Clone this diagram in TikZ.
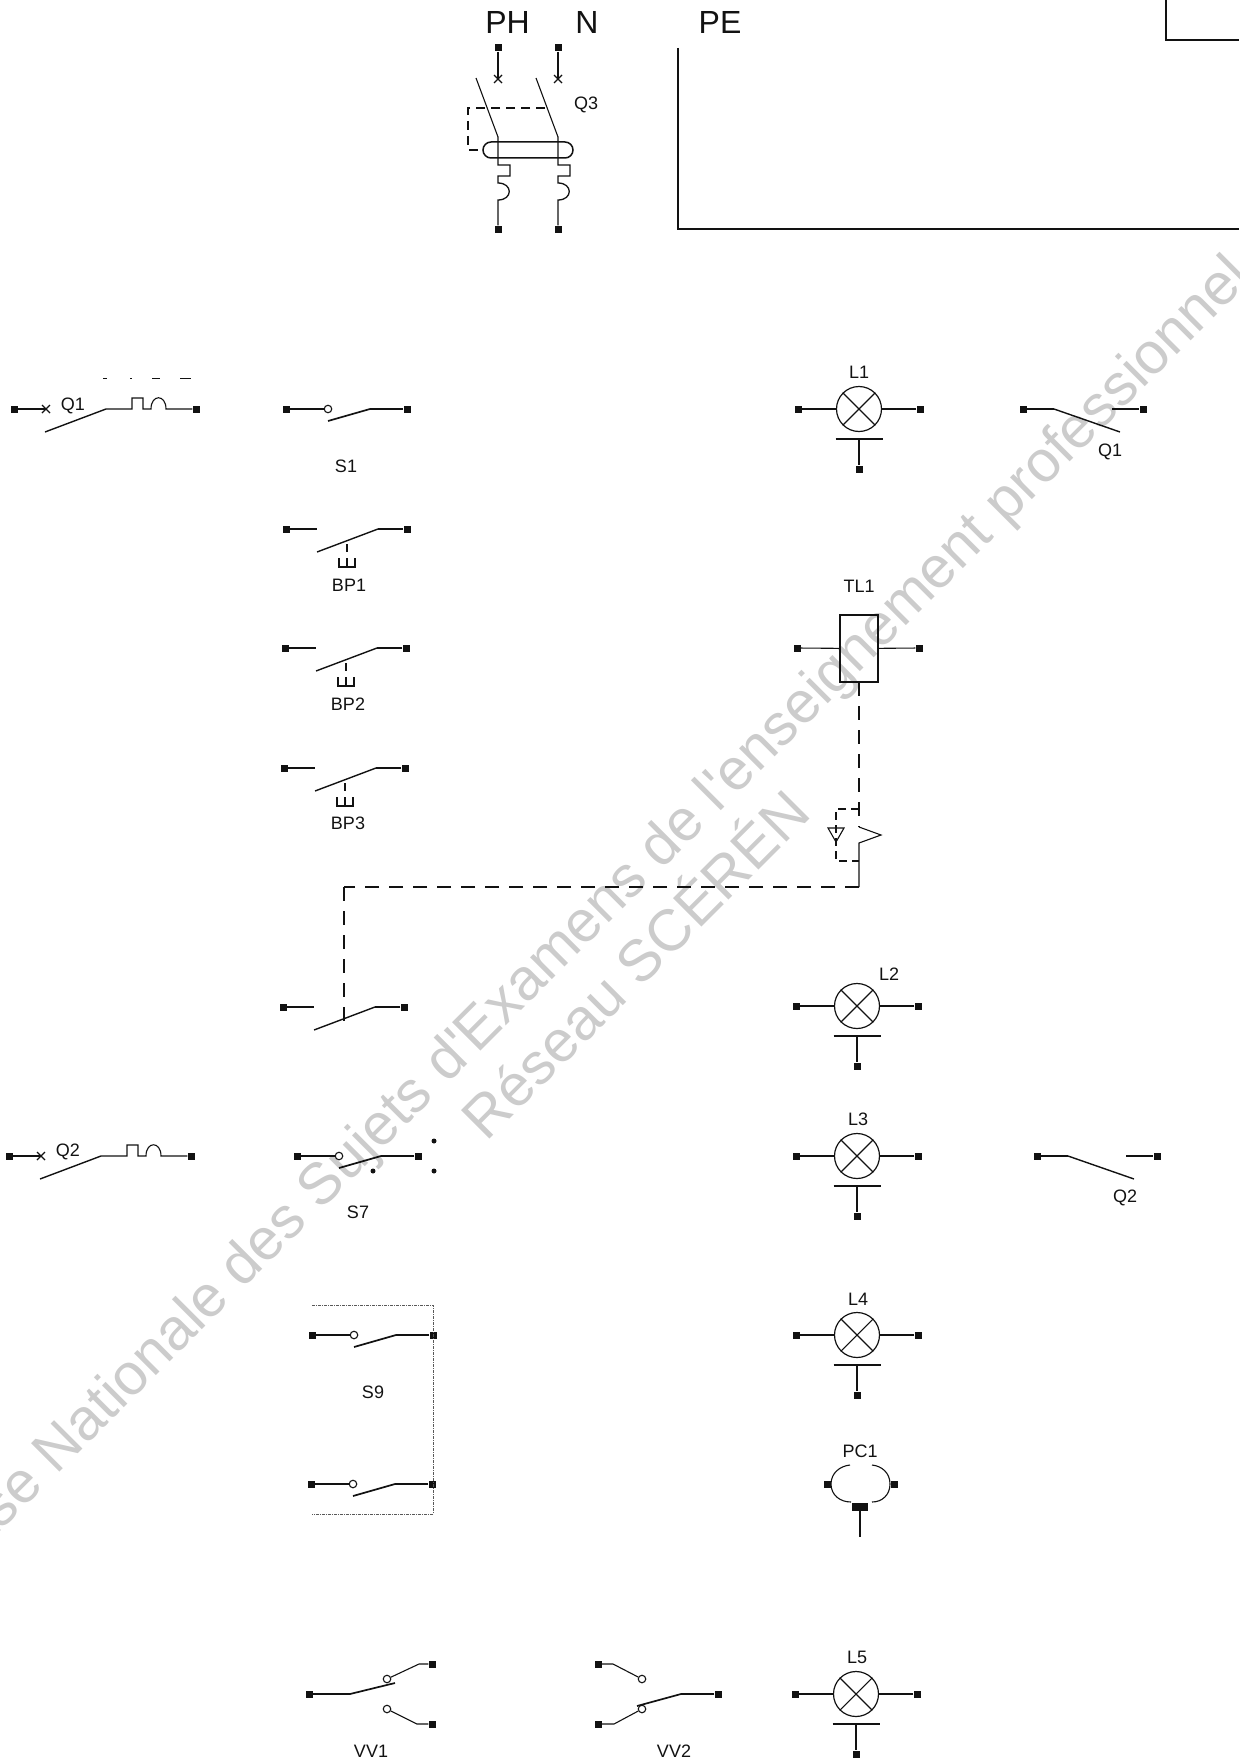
\documentclass[tikz,border=0pt]{standalone}
\usepackage{fontspec}
\setmainfont{Liberation Sans}
\newfontfamily\wmfont{Liberation Sans}
\definecolor{wm}{gray}{0.8}
\definecolor{ink}{gray}{0.07}
\tikzset{
  x=1pt,y=-1pt,
  wire/.style={draw=ink,line width=1.1pt},
  blade/.style={draw=ink,line width=1.7pt},
  thinblade/.style={draw=ink,line width=1.4pt},
  linkdash/.style={draw=ink,line width=1.2pt,dash pattern=on 14pt off 10pt},
  longdash/.style={draw=ink,line width=1.2pt,dash pattern=on 14pt off 10pt},
  dotframe/.style={draw=ink!70,line width=0.8pt,dash pattern=on 3pt off 1pt on 1pt off 1pt},
  term/.style={fill=ink,inner sep=0pt,minimum size=7pt,shape=rectangle},
  hollow/.style={draw=ink,fill=white,line width=1.1pt,shape=circle,inner sep=0pt,minimum size=7.5pt},
  dotm/.style={fill=ink,shape=circle,inner sep=0pt,minimum size=5pt},
  lab/.style={font=\fontsize{18}{20}\selectfont,text=ink,inner sep=0pt},
  bigl/.style={font=\fontsize{32}{34}\selectfont,text=ink,inner sep=0pt,yshift=-1pt},
  water/.style={text=wm,rotate=45,inner sep=0pt,anchor=base,font=\wmfont},
  pics/nocontact/.style={code={
    \node[term] (-l) at (0,0) {};
    \node[term] (-r) at (121,0) {};
    \coordinate (-s) at (31,0);
    \coordinate (-k) at (92,0);
    \coordinate (-t) at (31,23);
    \draw[wire] (-l) -- (-s);
    \draw[wire] (-r) -- (-k);
    \draw[thinblade] (-k) -- (-t);
  }},
  pics/pushcontact/.style={code={
    \pic (-c) at (0,0) {nocontact};
    \coordinate (-a) at (61,15);
    \coordinate (-b) at (61,23);
    \coordinate (-c1) at (53,29);
    \coordinate (-c2) at (53,38);
    \coordinate (-c3) at (69,38);
    \coordinate (-c4) at (69,29);
    \coordinate (-c5) at (61,29);
    \coordinate (-c6) at (61,38);
    \draw[wire] (-a) -- (-b);
    \draw[wire] (-c1) -- (-c2) -- (-c3) -- (-c4);
    \draw[wire] (-c5) -- (-c6);
  }},
  pics/switch/.style={code={
    \node[term] (-l) at (0,0) {};
    \node[term] (-r) at (121,0) {};
    \node[hollow] (-o) at (42,0) {};
    \coordinate (-k) at (84,0);
    \coordinate (-t) at (42,12);
    \draw[wire] (-l) -- (-o);
    \draw[wire] (-r) -- (-k);
    \draw[blade] (-k) -- (-t);
  }},
  pics/lamp/.style={code={
    \node[term] (-l) at (-61,0) {};
    \node[term] (-r) at (61,0) {};
    \node[term] (-b) at (0,60) {};
    \node[draw=ink,line width=1.2pt,shape=circle,inner sep=0pt,minimum size=45pt] (-c) at (0,0) {};
    \coordinate (-m) at (0,30);
    \coordinate (-ml) at (-23.5,30);
    \coordinate (-mr) at (23.5,30);
    \draw[wire] (-l) -- (-c);
    \draw[wire] (-r) -- (-c);
    \draw[wire] (-c.45) -- (-c.225);
    \draw[wire] (-c.135) -- (-c.315);
    \draw[draw=ink,line width=2pt] (-ml) -- (-mr);
    \draw[wire] (-m) -- (-b);
  }},
  pics/breaker/.style={code={
    \node[term] (-l) at (0,0) {};
    \node[term] (-r) at (182,0) {};
    \coordinate (-x) at (32,0);
    \coordinate (-x1) at (28,-4);
    \coordinate (-x2) at (36,4);
    \coordinate (-x3) at (28,4);
    \coordinate (-x4) at (36,-4);
    \coordinate (-t) at (31,23);
    \coordinate (-k) at (92,0);
    \draw[wire] (-l) -- (-x);
    \draw[wire] (-x1) -- (-x2);
    \draw[wire] (-x3) -- (-x4);
    \draw[thinblade] (-t) -- (-k);
    \draw[wire] (-k) -- (118,0) -- (118,-11) -- (129,-11) -- (129,0) -- (137,0)
       .. controls (137,-15) and (152,-15) .. (152,0) -- (-r);
  }},
  pics/qopen/.style={code={
    \node[term] (-l) at (0,0) {};
    \node[term] (-r) at (120,0) {};
    \coordinate (-k) at (31,0);
    \coordinate (-t) at (97,23);
    \coordinate (-s) at (89,0);
    \draw[wire] (-l) -- (-k);
    \draw[thinblade] (-k) -- (-t);
    \draw[wire] (-s) -- (-r);
  }},
  pics/qthree/.style={code={
    \node[term] (-top) at (0,0) {};
    \node[term] (-bot) at (0,181) {};
    \coordinate (-x) at (0,31);
    \coordinate (-x1) at (-4,27);
    \coordinate (-x2) at (4,35);
    \coordinate (-x3) at (-4,35);
    \coordinate (-x4) at (4,27);
    \coordinate (-bt) at (-22,30);
    \coordinate (-bb) at (0,89);
    \draw[wire] (-top) -- (-x);
    \draw[wire] (-x1) -- (-x2);
    \draw[wire] (-x3) -- (-x4);
    \draw[wire] (-bt) -- (-bb);
    \draw[wire,line width=1.3pt] (-bb) -- (0,117) -- (12,117) -- (12,128) -- (0,128) -- (0,135)
       .. controls (15,135) and (15,152) .. (0,152) -- (-bot);
  }}
}
\begin{document}
\begin{tikzpicture}
\useasboundingbox (0,0) rectangle (1239,1763);
\begin{scope}
\clip (0,0) rectangle (1239,1763);
\node[water,font=\wmfont\fontsize{58.4}{60}\selectfont] (wma) at (602,930) {Base Nationale des Sujets d'Examens de l'enseignement professionnel};
\node[water,font=\wmfont\fontsize{58.5}{60}\selectfont] (wmb) at (650,979) {Réseau SCÉRÉN};
\end{scope}

% top: supply and Q3
\node[bigl] (ph) at (507.5,21) {PH};
\node[bigl] (n) at (587,21) {N};
\node[bigl] (pe) at (720,21) {PE};
\node[lab] (q3) at (586,105) {Q3};
\pic (qa) at (498,48) {qthree};
\pic (qb) at (558,48) {qthree};
\draw[draw=ink,line width=1.5pt,rounded corners=8pt] (483,142) rectangle (573,158);
\coordinate (dq1) at (545,108);
\coordinate (dq2) at (468,108);
\coordinate (dq3) at (468,150);
\coordinate (dq4) at (483,150);
\draw[draw=ink,line width=1.2pt,dash pattern=on 9pt off 6pt] (dq1) -- (dq2) -- (dq3) -- (dq4);
\coordinate (pe1) at (678,48);
\coordinate (pe2) at (678,229);
\coordinate (pe3) at (1239,229);
\draw[wire] (pe1) -- (pe2) -- (pe3);
\coordinate (cr1) at (1166,0);
\coordinate (cr2) at (1166,40);
\coordinate (cr3) at (1239,40);
\draw[wire] (cr1) -- (cr2) -- (cr3);

% scan marks above Q1
\draw[draw=ink,line width=0.7pt] (103,378) -- (107,378) (130,378) -- (132,378) (152,378) -- (160,378) (180,378) -- (191,378);

% left column
\pic (bq1) at (14,409) {breaker};
\node[lab] (q1a) at (73,406) {Q1};
\pic (s1) at (286,409) {switch};
\node[lab] (s1t) at (346,466) {S1};
\pic (bp1) at (286,529) {pushcontact};
\node[lab] (bp1t) at (349,585) {BP1};
\pic (bp2) at (285,648) {pushcontact};
\node[lab] (bp2t) at (348,704) {BP2};
\pic (bp3) at (284,768) {pushcontact};
\node[lab] (bp3t) at (348,823) {BP3};
\pic (kc) at (283,1007) {nocontact};
\pic (bq2) at (9,1156) {breaker};
\node[lab] (q2a) at (68,1152) {Q2};
\pic (s7) at (297,1156) {switch};
\node[dotm] (d1) at (434,1141) {};
\node[dotm] (d2) at (434,1171) {};
\node[dotm] (d3) at (373,1171) {};
\node[lab] (s7t) at (358,1212) {S7};

% S9
\pic (s9a) at (312,1335) {switch};
\pic (s9b) at (311,1484) {switch};
\node[lab] (s9t) at (373,1392) {S9};
\coordinate (f1) at (312,1305);
\coordinate (f2) at (433,1305);
\coordinate (f3) at (433,1514);
\coordinate (f4) at (312,1514);
\draw[dotframe] (f1) -- (f2) -- (f3) -- (f4);

% VV1
\node[term] (v1l) at (309,1694) {};
\node[term] (v1a) at (432,1664) {};
\node[term] (v1b) at (432,1724) {};
\node[hollow] (v1o) at (387,1679) {};
\node[hollow] (v1p) at (387,1709) {};
\coordinate (v1k) at (350,1694);
\coordinate (v1t) at (395,1683);
\coordinate (v1m) at (419,1664);
\coordinate (v1n) at (417,1724);
\draw[wire] (v1l) -- (v1k);
\draw[blade] (v1k) -- (v1t);
\draw[wire] (v1o) -- (v1m) -- (v1a);
\draw[wire] (v1p) -- (v1n) -- (v1b);
\node[lab] (v1t2) at (371,1751) {VV1};

% VV2
\node[term] (v2r) at (718,1694) {};
\node[term] (v2a) at (598,1664) {};
\node[term] (v2b) at (598,1724) {};
\node[hollow] (v2o) at (642,1679) {};
\node[hollow] (v2p) at (642,1709) {};
\coordinate (v2k) at (681,1694);
\coordinate (v2t) at (637,1706);
\coordinate (v2m) at (613,1664);
\coordinate (v2n) at (614,1724);
\draw[wire] (v2r) -- (v2k);
\draw[wire] (v2a) -- (v2m) -- (v2o);
\draw[wire] (v2b) -- (v2n) -- (v2p);
\draw[blade] (v2k) -- (v2t);
\node[lab] (v2t2) at (674,1751) {VV2};

% lamps
\pic (l1) at (859,409) {lamp};
\node[lab] (l1t) at (859,372) {L1};
\pic (l2) at (857,1006) {lamp};
\node[lab] (l2t) at (889,974) {L2};
\pic (l3) at (857,1156) {lamp};
\node[lab] (l3t) at (858,1119) {L3};
\pic (l4) at (857,1335) {lamp};
\node[lab] (l4t) at (858,1299) {L4};
\pic (l5) at (856,1694) {lamp};
\node[lab] (l5t) at (857,1657) {L5};

% right Q contacts
\pic (qr1) at (1023,409) {qopen};
\node[lab] (q1b) at (1110,452) {Q1};
\pic (qr2) at (1037,1156) {qopen};
\node[lab] (q2b) at (1125,1198) {Q2};

% TL1
\node[lab] (tl1t) at (859,586) {TL1};
\node[draw=ink,line width=1.4pt,shape=rectangle,inner sep=0pt,minimum width=38pt,minimum height=67pt] (tl) at (859,648.5) {};
\node[term] (tll) at (797,648) {};
\node[term] (tlr) at (919,648) {};
\draw[wire] (tll) -- (tl);
\draw[wire] (tlr) -- (tl);
\coordinate (k1) at (859,682);
\coordinate (k2) at (859,827);
\coordinate (k3) at (881,835);
\coordinate (k4) at (859,843);
\coordinate (k5) at (859,887);
\coordinate (k6) at (344,887);
\coordinate (k7) at (344,1022);
\draw[longdash] (k1) -- (k2);
\draw[wire] (k2) -- (k3) -- (k4) -- (k5);
\draw[linkdash] (k5) -- (k6);
\draw[longdash] (k6) -- (k7);
\coordinate (b1) at (859,809);
\coordinate (b2) at (836,809);
\coordinate (b3) at (836,861);
\coordinate (b4) at (859,861);
\draw[draw=ink,line width=1.2pt,dash pattern=on 8pt off 5pt] (b1) -- (b2) -- (b3) -- (b4);
\coordinate (tr1) at (828,828);
\coordinate (tr2) at (844,828);
\coordinate (tr3) at (836,842);
\draw[wire] (tr1) -- (tr2) -- (tr3) -- cycle;

% PC1
\node[lab] (pc1t) at (860,1451) {PC1};
\node[term] (pcl) at (827,1484) {};
\node[term] (pcr) at (894,1484) {};
\node[fill=ink,shape=rectangle,inner sep=0pt,minimum width=16pt,minimum height=8pt] (pcb) at (860,1507) {};
\coordinate (pcs) at (860,1537);
\draw[wire] (pcb) -- (pcs);
\coordinate (a1) at (831,1484);
\coordinate (a2) at (850,1465);
\coordinate (a3) at (872,1465);
\coordinate (a4) at (890,1484);
\coordinate (a5) at (851,1502);
\coordinate (a6) at (872,1502);
\draw[wire] (a1) .. controls (831,1473) and (840,1466) .. (a2);
\draw[wire] (a3) .. controls (882,1466) and (890,1473) .. (a4);
\draw[wire] (a1) .. controls (831,1495) and (840,1502) .. (a5);
\draw[wire] (a6) .. controls (882,1502) and (890,1495) .. (a4);
\end{tikzpicture}
\end{document}
